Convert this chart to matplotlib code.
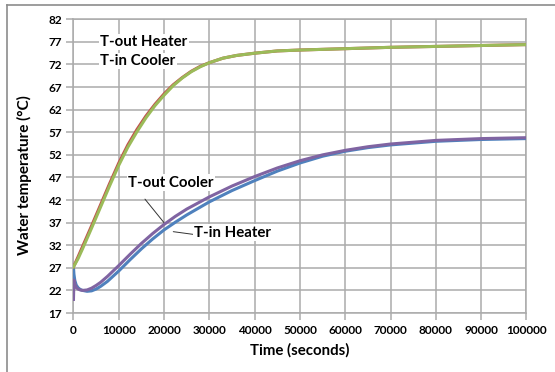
import matplotlib
matplotlib.use("Agg")
import matplotlib.pyplot as plt
from matplotlib.lines import Line2D

plt.rcParams['font.family'] = ['Lato', 'DejaVu Sans']
plt.rcParams['font.weight'] = 'bold'

# heater outlet / cooler inlet (hot loop)
t_hot = [0, 1000, 2000, 4000, 6000, 8000, 10000, 12000, 14000, 16000, 18000,
         20000, 22000, 24000, 26000, 28000, 30000, 33000, 36000, 40000, 45000,
         50000, 60000, 70000, 80000, 90000, 100000]
t_out_heater = [27.2, 29.4, 31.7, 36.3, 41.0, 45.7, 50.2, 54.2, 57.6, 60.6, 63.2,
                65.5, 67.5, 69.1, 70.5, 71.6, 72.4, 73.4, 74.0, 74.5, 75.0,
                75.2, 75.5, 75.8, 76.0, 76.2, 76.4]
t_in_cooler = [27.2, 29.0, 31.2, 35.8, 40.5, 45.2, 49.7, 53.7, 57.1, 60.2, 62.9,
               65.2, 67.3, 69.0, 70.4, 71.5, 72.4, 73.4, 74.0, 74.5, 75.0,
               75.2, 75.5, 75.8, 76.0, 76.2, 76.4]

# cooler outlet / heater inlet (cold loop)
t_cold = [0, 100, 300, 600, 1000, 1500, 2000, 3000, 4000, 5000, 6000, 7500,
          10000, 12500, 15000, 17500, 20000, 22500, 25000, 30000, 35000, 40000,
          45000, 50000, 55000, 60000, 65000, 70000, 80000, 90000, 100000]
t_out_cooler = [20.0, 24.3, 23.4, 22.7, 22.3, 22.1, 22.0, 22.1, 22.5, 23.1, 23.8, 25.1,
                27.5, 30.0, 32.4, 34.6, 36.6, 38.4, 40.0, 42.7, 45.1, 47.2,
                49.1, 50.7, 52.0, 53.0, 53.8, 54.4, 55.2, 55.6, 55.8]
t_in_heater = [27.2, 25.6, 24.2, 23.2, 22.6, 22.2, 22.0, 21.8, 21.9, 22.3, 22.9, 24.0,
               26.3, 28.8, 31.2, 33.4, 35.4, 37.1, 38.7, 41.6, 44.1, 46.3,
               48.4, 50.2, 51.7, 52.8, 53.6, 54.2, 55.0, 55.4, 55.6]

y_ticks = list(range(17, 83, 5))
x_ticks = list(range(0, 100001, 10000))

fig = plt.figure(figsize=(5.55, 3.72), dpi=100)
ax = fig.add_axes([0.1324, 0.1586, 0.8162, 0.7895])

grid_col = '#ababab'
ax.plot(t_cold, t_in_heater, color='#4f81bd', lw=2.2, solid_joinstyle='round', zorder=3)
ax.plot(t_cold, t_out_cooler, color='#8064a2', lw=2.2, solid_joinstyle='round', zorder=4)
ax.plot(t_hot, t_out_heater, color='#c0504d', lw=2.2, solid_joinstyle='round', zorder=3)
ax.plot(t_hot, t_in_cooler, color='#9bbb59', lw=2.2, solid_joinstyle='round', zorder=4)

ax.set_xlim(0, 100000)
ax.set_ylim(17, 82)
ax.set_xticks(x_ticks)
ax.set_yticks(y_ticks)
ax.set_xticklabels([str(v) for v in x_ticks])
ax.grid(True, color=grid_col, lw=1.1)
ax.set_axisbelow(True)
for s in ax.spines.values():
    s.set_color(grid_col)
    s.set_linewidth(1.1)
ax.tick_params(axis='both', colors=grid_col, labelcolor='black', labelsize=8.5, length=5, width=1.1)
for lab in ax.get_xticklabels() + ax.get_yticklabels():
    lab.set_fontweight('bold')

ax.set_xlabel('Time (seconds)', fontsize=10.8, fontweight='bold', labelpad=5)
ax.set_ylabel('Water temperature (°C)', fontsize=11, fontweight='bold')
ax.yaxis.set_label_coords(-0.092, 0.47)

box = dict(facecolor='white', edgecolor='none', pad=1)
lab_kw = dict(fontsize=10.8, fontweight='bold', va='center', bbox=box, zorder=5)
ax.text(5850, 77.0, 'T-out Heater', **lab_kw)
ax.text(5850, 72.8, 'T-in Cooler', **lab_kw)
ax.text(12030, 45.85, 'T-out Cooler', **lab_kw)
ax.text(26600, 34.8, 'T-in Heater', **lab_kw)

# leader lines
ax.annotate('', xy=(19980, 37.0), xytext=(15780, 42.2),
            arrowprops=dict(arrowstyle='-', color='#333333', lw=0.7, shrinkA=0, shrinkB=0))
ax.annotate('', xy=(22030, 35.0), xytext=(26450, 34.4),
            arrowprops=dict(arrowstyle='-', color='#333333', lw=0.7, shrinkA=0, shrinkB=0))

# outer chart frame (only top/left edge visible in crop)
fig.add_artist(Line2D([7 / 555, 7 / 555], [0, 1 - 5 / 372], color='#8c8c8c', lw=1.2))
fig.add_artist(Line2D([7 / 555, 1], [1 - 5 / 372, 1 - 5 / 372], color='#8c8c8c', lw=1.2))

fig.savefig('out.png', dpi=100)
